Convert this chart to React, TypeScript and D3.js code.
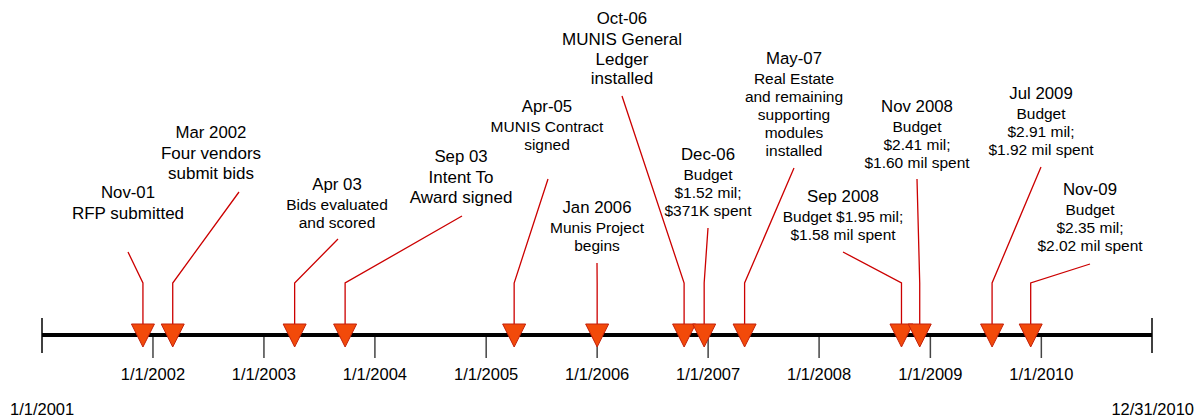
import React from 'react';
import * as d3 from 'd3';

// event data
const eventDates = [
  new Date(2001, 10, 29),
  new Date(2002, 2, 7),
  new Date(2003, 3, 12),
  new Date(2003, 8, 25),
  new Date(2005, 3, 3),
  new Date(2006, 0, 1),
  new Date(2006, 9, 14),
  new Date(2006, 11, 19),
  new Date(2007, 4, 1),
  new Date(2008, 8, 28),
  new Date(2008, 10, 27),
  new Date(2009, 6, 23),
  new Date(2009, 10, 27),
];

const eventTitles = [
  'Nov-01', 'Mar 2002', 'Apr 03', 'Sep 03', 'Apr-05', 'Jan 2006', 'Oct-06',
  'Dec-06', 'May-07', 'Sep 2008', 'Nov 2008', 'Jul 2009', 'Nov-09',
];

const eventBodies = [
  ['RFP submitted'],
  ['Four vendors', 'submit bids'],
  ['Bids evaluated', 'and scored'],
  ['Intent To', 'Award signed'],
  ['MUNIS Contract', 'signed'],
  ['Munis Project', 'begins'],
  ['MUNIS General', 'Ledger', 'installed'],
  ['Budget', '$1.52 mil;', '$371K spent'],
  ['Real Estate', 'and remaining', 'supporting', 'modules', 'installed'],
  ['Budget $1.95 mil;', '$1.58 mil spent'],
  ['Budget', '$2.41 mil;', '$1.60 mil spent'],
  ['Budget', '$2.91 mil;', '$1.92 mil spent'],
  ['Budget', '$2.35 mil;', '$2.02 mil spent'],
];

const tickDates = d3.range(2002, 2011).map(y => new Date(y, 0, 1));
const tickLabels = tickDates.map(d => d3.timeFormat('%-m/%-d/%Y')(d));
const startLabel = '1/1/2001';
const endLabel = '12/31/2010';

// where each callout sits: label centre, title baseline, body font size,
// and the point the leader line runs to
const layout = [
  { cx: 128, ty: 198, fs: 17, ex: 128, ey: 252 },
  { cx: 211, ty: 138, fs: 17, ex: 239, ey: 192 },
  { cx: 337, ty: 190, fs: 15.5, ex: 338, ey: 239 },
  { cx: 461, ty: 162, fs: 17, ex: 462, ey: 216 },
  { cx: 547, ty: 112, fs: 15.5, ex: 548, ey: 179 },
  { cx: 597, ty: 213, fs: 15.5, ex: 597, ey: 263 },
  { cx: 622, ty: 24, fs: 17, ex: 622, ey: 96 },
  { cx: 708, ty: 160, fs: 15.5, ex: 708, ey: 228 },
  { cx: 794, ty: 64, fs: 15.5, ex: 794, ey: 168 },
  { cx: 843, ty: 202, fs: 15.5, ex: 843, ey: 252 },
  { cx: 917, ty: 112, fs: 15.5, ex: 917, ey: 179 },
  { cx: 1041, ty: 99, fs: 15.5, ex: 1041, ey: 167 },
  { cx: 1090, ty: 195, fs: 15.5, ex: 1090, ey: 264 },
];

const W = 1198;
const H = 420;
const axisY = 335;
const bendY = 283;
const triTop = 324;
const triH = 23;
const triW = 23;
const font = '"Liberation Sans", Arial, sans-serif';

const App = () => {
  const x = d3
    .scaleTime()
    .domain([new Date(2001, 0, 1), new Date(2010, 11, 31)])
    .range([42, 1152]);

  const [x0, x1] = x.range();

  const leader = d3.line();

  return (
    <svg
      width={W}
      height={H}
      style={{ position: 'absolute', left: 0, top: 0, background: '#fff' }}
      fontFamily={font}
    >
      {/* main axis */}
      {tickDates.map((d, i) => (
        <g key={i}>
          <line x1={x(d)} x2={x(d)} y1={axisY} y2={358} stroke="#444" strokeWidth={1.5} />
          <text x={x(d)} y={380} textAnchor="middle" fontSize={16.5} fill="#000">
            {tickLabels[i]}
          </text>
        </g>
      ))}
      <line x1={x0} x2={x1} y1={axisY} y2={axisY} stroke="#000" strokeWidth={4} />
      <line x1={x0} x2={x0} y1={318} y2={353} stroke="#000" strokeWidth={1.5} />
      <line x1={x1} x2={x1} y1={318} y2={353} stroke="#000" strokeWidth={1.5} />
      <text x={10} y={415} fontSize={16.5} fill="#000">{startLabel}</text>
      <text x={1194} y={415} fontSize={16.5} textAnchor="end" fill="#000">{endLabel}</text>

      {/* leader lines */}
      {eventDates.map((d, i) => {
        const p = layout[i];
        const ex = x(d);
        return (
          <path
            key={'l' + i}
            d={leader([[ex, triTop + 2], [ex, bendY], [p.ex, p.ey]]) ?? ''}
            fill="none"
            stroke="#cc0000"
            strokeWidth={1.3}
          />
        );
      })}

      {/* markers */}
      {eventDates.map((d, i) => {
        const ex = x(d);
        return (
          <path
            key={'t' + i}
            d={`M${ex - triW / 2},${triTop}L${ex + triW / 2},${triTop}L${ex},${triTop + triH}Z`}
            fill="#f24a0a"
            stroke="#c4210a"
            strokeWidth={1}
          />
        );
      })}

      {/* callout text */}
      {eventTitles.map((t, i) => {
        const p = layout[i];
        const big = p.fs > 16;
        const gap = big ? 21 : 20;
        const step = big ? 19.5 : 18;
        return (
          <g key={'c' + i} textAnchor="middle" fill="#000">
            <text x={p.cx} y={p.ty} fontSize={16.8}>{t}</text>
            {eventBodies[i].map((b, j) => (
              <text key={j} x={p.cx} y={p.ty + gap + j * step} fontSize={p.fs}>
                {b}
              </text>
            ))}
          </g>
        );
      })}
    </svg>
  );
};

export default App;
